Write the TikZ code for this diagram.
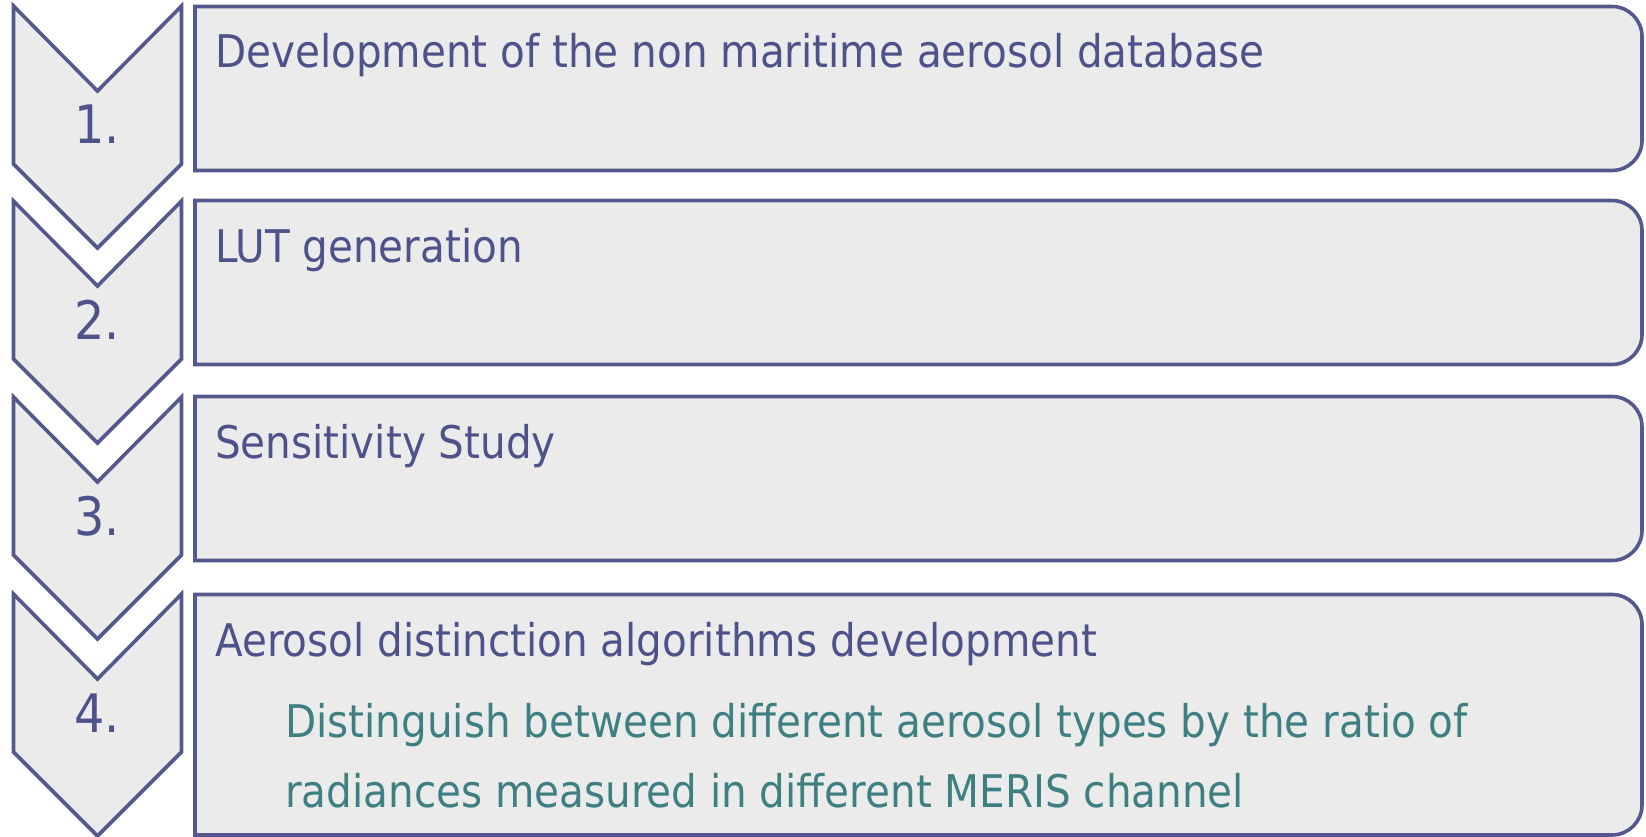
\documentclass[tikz,border=0pt]{standalone}
\usepackage{fontspec}
\setmainfont{DejaVu Sans Condensed}
\definecolor{edge}{RGB}{84,88,140}
\definecolor{panel}{RGB}{235,235,235}
\definecolor{headtext}{RGB}{78,82,138}
\definecolor{subtext}{RGB}{62,128,130}
\tikzset{
  chevron/.style={draw=edge, fill=panel, line width=3.6pt, line join=miter},
  panelbox/.style={draw=edge, fill=panel, line width=3.6pt},
  heading/.style={anchor=base west, inner sep=0pt, text=headtext, font=\fontsize{45}{54}\selectfont},
  detail/.style={anchor=base west, inner sep=0pt, text=subtext, font=\fontsize{45}{54}\selectfont},
  stepnum/.style={anchor=base, inner sep=0pt, text=headtext, font=\fontsize{53}{60}\selectfont},
}
% chevron with its top-left corner height #1 (y grows downwards)
\newcommand{\chevronat}[2]{%
  \draw[chevron] (13.5,#1) -- (97.5,#1+85) -- (181.5,#1) -- (181.5,#1+158)
    -- (97.5,#1+242) -- (13.5,#1+158) -- cycle;
  \node[stepnum] (num#2) at (97,#1+138) {#2.};
}
% panel with square left corners and rounded right corners, top #1, bottom #2
% (the y axis points down, so arc angles are mirrored)
\newcommand{\panelat}[2]{%
  \draw[panelbox] (195,#1) -- (1612,#1) arc[start angle=-90, end angle=0, radius=30]
    -- (1642,#2-30) arc[start angle=0, end angle=90, radius=30] -- (195,#2) -- cycle;
}
\begin{document}
\begin{tikzpicture}[x=1pt, y=-1pt]
  \useasboundingbox (0,0) rectangle (1646,837);
  % stacked steps
  \panelat{6.5}{170.5}
  \panelat{200.5}{364.5}
  \panelat{396.5}{560.5}
  \panelat{594.5}{835}
  \chevronat{6}{1}
  \chevronat{201}{2}
  \chevronat{397}{3}
  \chevronat{594}{4}
  % step titles
  \node[heading] (t1) at (215,68) {Development of the non maritime aerosol database};
  \node[heading] (t2) at (215,262) {LUT generation};
  \node[heading] (t3) at (215,458) {Sensitivity Study};
  \node[heading] (t4) at (215,656) {Aerosol distinction algorithms development};
  % details of step 4
  \node[detail] (d1) at (285,737) {Distinguish between different aerosol types by the ratio of};
  \node[detail] (d2) at (285,807) {radiances measured in different MERIS channel};
\end{tikzpicture}
\end{document}
